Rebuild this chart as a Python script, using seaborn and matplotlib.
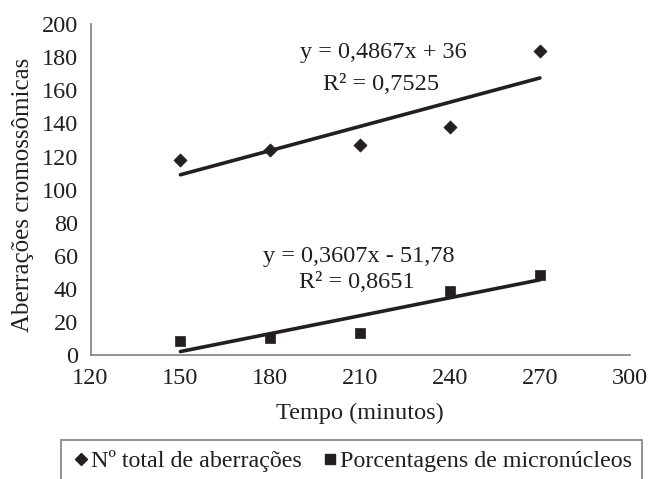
import matplotlib
matplotlib.use("Agg")
import matplotlib.pyplot as plt
import seaborn as sns
import numpy as np
import pandas as pd
from matplotlib.lines import Line2D
from matplotlib.patches import Rectangle

sns.set_theme(style="white")
plt.rcParams['font.family'] = ['Liberation Serif', 'DejaVu Serif']

# Data
tempo = [150, 180, 210, 240, 270]
aberracoes = [118, 124, 127, 138, 183.5]
micronucleos = [8.6, 10.8, 13.7, 38.8, 48.5]
fit_ab = (0.4867, 36.0)
fit_mn = (0.3607, -51.78)
eq_ab = ["y = 0,4867x + 36", "R² = 0,7525"]
eq_mn = ["y = 0,3607x - 51,78", "R² = 0,8651"]
x_ticks = [120, 150, 180, 210, 240, 270, 300]
y_ticks = [0, 20, 40, 60, 80, 100, 120, 140, 160, 180, 200]
series_names = ["Nº total de aberrações", "Porcentagens de micronúcleos"]

txt = "#231f20"
spine_c = "#7f7f7f"
fs = 17.5

df = pd.DataFrame({"tempo": tempo, "ab": aberracoes, "mn": micronucleos})
xs = np.array([min(tempo), max(tempo)])
line_df = pd.DataFrame({
    "x": xs,
    "ab": fit_ab[0] * xs + fit_ab[1],
    "mn": fit_mn[0] * xs + fit_mn[1],
})

fig = plt.figure(figsize=(6.56, 4.79), dpi=100)
ax = fig.add_axes([0.138, 0.258, 0.822, 0.692])

sns.lineplot(data=line_df, x="x", y="ab", ax=ax, color=txt, linewidth=2.6)
sns.lineplot(data=line_df, x="x", y="mn", ax=ax, color=txt, linewidth=2.6)
sns.scatterplot(data=df, x="tempo", y="ab", ax=ax, marker="D", s=45, color=txt,
                edgecolor=txt, linewidth=0.5, zorder=5)
sns.scatterplot(data=df, x="tempo", y="mn", ax=ax, marker="s", s=60, color=txt,
                edgecolor=txt, linewidth=0.5, zorder=5)

ax.set_xlim(120, 300)
ax.set_ylim(0, 200)
ax.set_xticks(x_ticks)
ax.set_yticks(y_ticks)
ax.tick_params(axis="both", labelsize=fs, colors=txt, direction="out",
               length=5, width=1, color=spine_c, pad=4)
for s in ["top", "right"]:
    ax.spines[s].set_visible(False)
for s in ["left", "bottom"]:
    ax.spines[s].set_color(spine_c)
    ax.spines[s].set_linewidth(1.2)

ax.set_xlabel("Tempo (minutos)", fontsize=fs, color=txt, labelpad=10)
ax.set_ylabel("Aberrações cromossômicas", fontsize=18, color=txt)
ax.yaxis.set_label_coords(-0.105, 0.485)

ax.text(217.7, 182.9, eq_ab[0], ha="center", va="center", fontsize=fs, color=txt)
ax.text(217.0, 163.5, eq_ab[1], ha="center", va="center", fontsize=fs, color=txt)
ax.text(209.7, 59.7, eq_mn[0], ha="center", va="center", fontsize=fs, color=txt)
ax.text(209.0, 44.0, eq_mn[1], ha="center", va="center", fontsize=fs, color=txt)

handles = [
    Line2D([], [], marker="D", linestyle="none", color=txt, markersize=6),
    Line2D([], [], marker="s", linestyle="none", color=txt, markersize=7),
]
leg = fig.legend(handles, series_names, loc="center left",
                 bbox_to_anchor=(69 / 656, 1 - 461 / 479), ncol=2,
                 frameon=False, fontsize=17.3,
                 handletextpad=-0.1, columnspacing=0.7, borderpad=0,
                 handlelength=1.0, borderaxespad=0)
for t in leg.get_texts():
    t.set_color(txt)

box = Rectangle((61 / 656, -0.05), (642 - 61) / 656, 0.05 + 39 / 479,
                transform=fig.transFigure, fill=False, edgecolor=spine_c,
                linewidth=1.2, clip_on=False)
fig.patches.append(box)

fig.savefig("out.png", dpi=100)
